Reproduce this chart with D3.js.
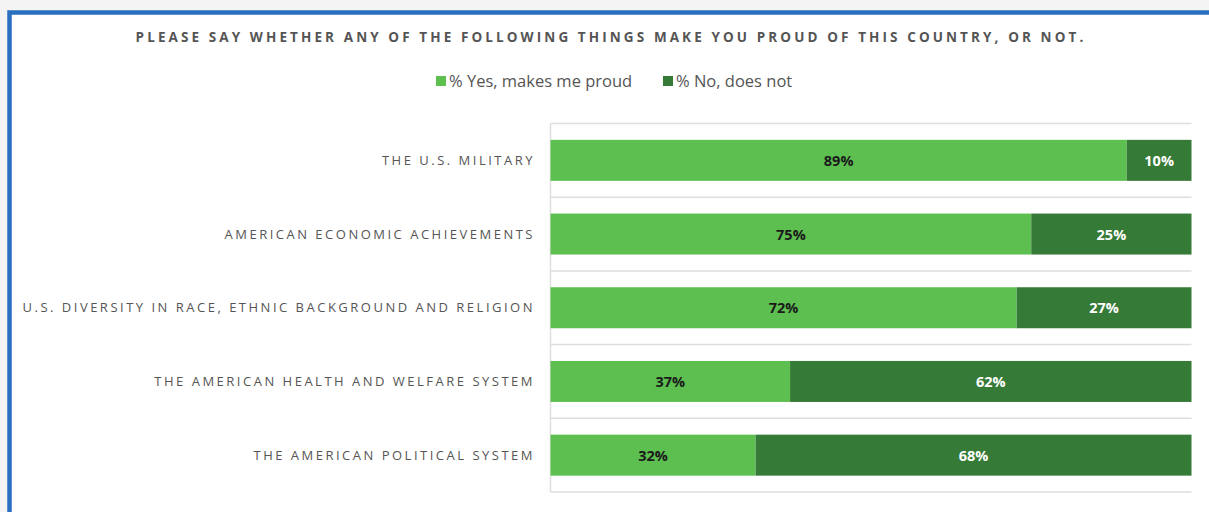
<!DOCTYPE html>
<html><head><meta charset="utf-8">
<script src="https://cdn.jsdelivr.net/npm/d3@7"></script>
<style>
html,body{margin:0;padding:0;background:#f4f4f4;}
svg{display:block;}
</style></head><body>
<svg id="chart" width="1209" height="512"></svg>
<script>
const categories = [
  "THE U.S. MILITARY",
  "AMERICAN ECONOMIC ACHIEVEMENTS",
  "U.S. DIVERSITY IN RACE, ETHNIC BACKGROUND AND RELIGION",
  "THE AMERICAN HEALTH AND WELFARE SYSTEM",
  "THE AMERICAN POLITICAL SYSTEM"
];
const yesValues = [89, 75, 72, 37, 32];
const noValues  = [10, 25, 27, 62, 68];
const seriesNames = ["% Yes, makes me proud", "% No, does not"];
const seriesColors = ["#5cbf50", "#367a37"];
const labelColors = ["#1a1a1a", "#ffffff"];
const title = "PLEASE SAY WHETHER ANY OF THE FOLLOWING THINGS MAKE YOU PROUD OF THIS COUNTRY, OR NOT.";

const svg = d3.select("#chart");
const font = "'Open Sans', sans-serif";

// frame
svg.append("rect").attr("x", 9.5).attr("y", 12.5).attr("width", 1220).attr("height", 520)
  .attr("fill", "#fff").attr("stroke", "#2a6fc0").attr("stroke-width", 4.5);

// title
svg.append("text").attr("x", 611).attr("y", 42).attr("text-anchor", "middle")
  .attr("font-family", font).attr("font-weight", 700).attr("font-size", 13.5)
  .attr("letter-spacing", 3.1).attr("fill", "#555").text(title);

const margin = {left: 550.5, right: 1191.5, top: 123.5, bottom: 492};
const rows = categories.map((c, i) => ({cat: c, vals: [yesValues[i], noValues[i]]}));

const y = d3.scaleBand().domain(categories).range([margin.top, margin.bottom]).paddingInner(0).paddingOuter(0);
const x = d3.scaleLinear().domain([0, 1]).range([margin.left, margin.right]);

// gridlines (horizontal at band boundaries)
const g = svg.append("g");
const bounds = categories.map(c => y(c)).concat([margin.bottom]);
g.selectAll("line.h").data(bounds).join("line")
  .attr("x1", margin.left).attr("x2", margin.right)
  .attr("y1", d => d).attr("y2", d => d)
  .attr("stroke", "#dedede").attr("stroke-width", 1.5);
g.append("line").attr("x1", margin.left).attr("x2", margin.left)
  .attr("y1", margin.top).attr("y2", margin.bottom)
  .attr("stroke", "#dedede").attr("stroke-width", 1.5);

// bars
const barH = 41;
rows.forEach(r => {
  const total = d3.sum(r.vals);
  let cum = 0;
  const segs = r.vals.map((v, k) => {
    const s = {k, v, x0: cum / total, x1: (cum + v) / total};
    cum += v; return s;
  });
  const yc = y(r.cat) + y.bandwidth() / 2;
  const gg = svg.append("g");
  gg.selectAll("rect").data(segs).join("rect")
    .attr("x", d => x(d.x0)).attr("width", d => x(d.x1) - x(d.x0))
    .attr("y", yc - barH / 2).attr("height", barH)
    .attr("fill", d => seriesColors[d.k]);
  gg.selectAll("text").data(segs).join("text")
    .attr("x", d => (x(d.x0) + x(d.x1)) / 2).attr("y", yc + 5.5)
    .attr("text-anchor", "middle").attr("font-family", font).attr("font-weight", 700)
    .attr("font-size", 14.5).attr("fill", d => labelColors[d.k]).text(d => d.v + "%");
  // category label
  svg.append("text").attr("x", 535).attr("y", yc + 4.5).attr("text-anchor", "end")
    .attr("font-family", font).attr("font-size", 13).attr("letter-spacing", 2.5)
    .attr("fill", "#555").text(r.cat);
});

// legend
const legendX = [436, 663];
seriesNames.forEach((n, k) => {
  svg.append("rect").attr("x", legendX[k]).attr("y", 76).attr("width", 10).attr("height", 10)
    .attr("fill", seriesColors[k]);
  svg.append("text").attr("x", legendX[k] + 13).attr("y", 87)
    .attr("font-family", font).attr("font-size", 16.5).attr("fill", "#555").text(n);
});
</script>
</body></html>
